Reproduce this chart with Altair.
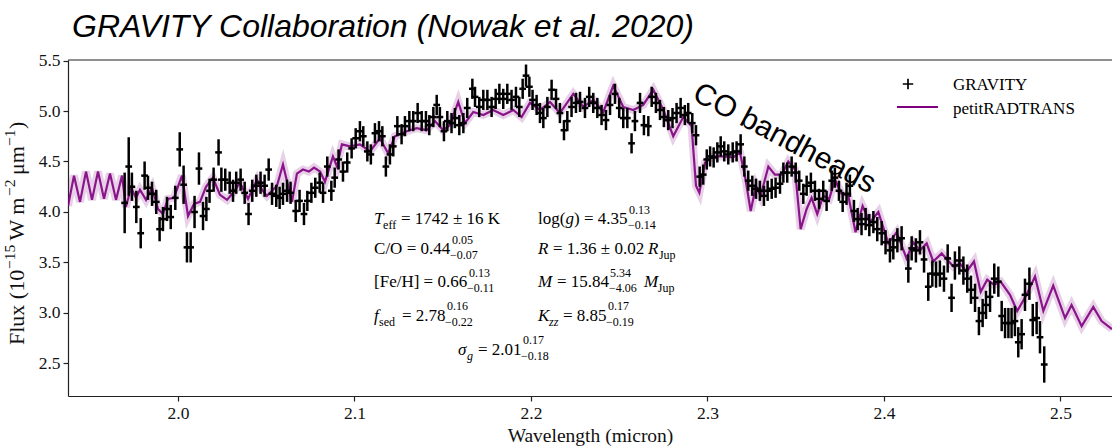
import altair as alt
import pandas as pd

# GRAVITY K-band spectrum: wavelength (micron), flux (1e-15 W m^-2 um^-1), 1-sigma error
wl = [
    1.9698, 1.9721, 1.9739, 1.9764, 1.9789, 1.9811, 1.9830, 1.9853, 1.9877, 1.9896,
    1.9915, 1.9938, 1.9959, 1.9985, 2.0010, 2.0032, 2.0051, 2.0072, 2.0094, 2.0119,
    2.0142, 2.0161, 2.0179, 2.0202, 2.0230, 2.0246, 2.0268, 2.0293, 2.0312, 2.0330,
    2.0355, 2.0378, 2.0400, 2.0421, 2.0444, 2.0468, 2.0491, 2.0514, 2.0533, 2.0557,
    2.0576, 2.0595, 2.0618, 2.0638, 2.0667, 2.0689, 2.0714, 2.0733, 2.0756, 2.0778,
    2.0803, 2.0822, 2.0846, 2.0869, 2.0888, 2.0910, 2.0935,
    2.0959, 2.0984, 2.1007, 2.1031, 2.1050, 2.1073, 2.1093, 2.1116, 2.1139, 2.1158,
    2.1178, 2.1201, 2.1220, 2.1243, 2.1267, 2.1286, 2.1311, 2.1333, 2.1358, 2.1381,
    2.1405, 2.1424, 2.1447, 2.1466, 2.1484, 2.1507, 2.1526, 2.1550, 2.1569, 2.1594,
    2.1617, 2.1639, 2.1668, 2.1683, 2.1707, 2.1730, 2.1753, 2.1777, 2.1800, 2.1821,
    2.1843, 2.1866, 2.1890, 2.1915, 2.1934, 2.1953, 2.1972, 2.1991, 2.2009, 2.2032,
    2.2051, 2.2070, 2.2093, 2.2117, 2.2142, 2.2164, 2.2187, 2.2206, 2.2230, 2.2255,
    2.2278, 2.2306, 2.2330, 2.2353, 2.2376, 2.2400, 2.2425, 2.2448, 2.2476, 2.2500,
    2.2523, 2.2546, 2.2570, 2.2589, 2.2618, 2.2640, 2.2665, 2.2684, 2.2708, 2.2731,
    2.2753, 2.2778, 2.2802, 2.2825, 2.2848, 2.2872, 2.2891, 2.2914, 2.2935,
    2.2956, 2.2976, 2.2996, 2.3015, 2.3035, 2.3056, 2.3075, 2.3095, 2.3118, 2.3143,
    2.3165, 2.3188, 2.3209, 2.3231, 2.3254, 2.3275, 2.3297, 2.3320, 2.3341, 2.3364,
    2.3386, 2.3411, 2.3430, 2.3452, 2.3477, 2.3500, 2.3520, 2.3543, 2.3562, 2.3586,
    2.3609, 2.3632, 2.3656, 2.3675, 2.3704, 2.3722, 2.3745, 2.3766, 2.3788, 2.3807,
    2.3830, 2.3851, 2.3873, 2.3896, 2.3917, 2.3940, 2.3962, 2.3987, 2.4009, 2.4034,
    2.4053, 2.4076,
    2.4100, 2.4138, 2.4157, 2.4181, 2.4204, 2.4227, 2.4251, 2.4274, 2.4295, 2.4317,
    2.4340, 2.4361, 2.4383, 2.4402, 2.4427, 2.4450, 2.4472, 2.4493, 2.4516, 2.4538,
    2.4559, 2.4578, 2.4601, 2.4625, 2.4648, 2.4667, 2.4686, 2.4705, 2.4723, 2.4742,
    2.4761, 2.4780, 2.4799, 2.4824, 2.4843, 2.4865, 2.4884, 2.4908,
]
flux = [
    4.09, 4.45, 4.25, 4.05, 3.79, 4.36, 4.24, 4.18, 4.10, 3.83,
    3.93, 4.03, 3.95, 4.14, 4.62, 4.27, 3.65, 3.65, 4.00, 4.43,
    3.96, 4.03, 4.21, 4.32, 4.59, 4.32, 4.32, 4.29, 4.21, 4.29,
    4.32, 4.19, 3.98, 4.21, 4.26, 4.29, 4.26, 4.42, 4.18, 4.16,
    4.14, 4.18, 4.21, 4.19, 4.01, 4.11, 3.98, 4.11, 4.19, 4.24,
    4.29, 4.19, 4.45, 4.21, 4.34, 4.52, 4.40,
    4.49, 4.63, 4.73, 4.80, 4.75, 4.60, 4.57, 4.78, 4.80, 4.75,
    4.45, 4.57, 4.65, 4.85, 4.77, 4.85, 4.90, 4.90, 4.98, 4.90,
    4.90, 4.86, 4.94, 5.06, 4.94, 4.80, 4.90, 4.88, 4.93, 4.86,
    4.88, 5.03, 5.22, 5.14, 5.04, 5.11, 5.11, 5.04, 5.12, 5.17,
    5.12, 5.17, 5.11, 5.14, 5.04, 5.22, 5.35, 5.24, 5.11, 5.06,
    4.98, 4.93, 5.04, 5.21, 5.12, 4.98, 4.81, 4.90, 5.04, 5.08,
    5.09, 5.03, 5.14, 5.08, 5.03, 4.96, 4.91, 5.06, 5.17, 5.03,
    4.93, 4.93, 4.68, 4.90, 5.08, 4.86, 4.85, 5.14, 5.08, 5.01,
    4.94, 4.91, 4.93, 4.98, 5.03, 4.96, 4.98, 4.88, 4.76,
    4.35, 4.37, 4.52, 4.55, 4.54, 4.59, 4.65, 4.60, 4.57, 4.59,
    4.60, 4.67, 4.45, 4.31, 4.26, 4.23, 4.21, 4.16, 4.21, 4.23,
    4.24, 4.28, 4.39, 4.39, 4.45, 4.39, 4.31, 4.18, 4.26, 4.29,
    4.21, 4.13, 4.21, 4.11, 4.31, 4.34, 4.21, 4.10, 4.18, 4.26,
    4.01, 3.93, 3.88, 3.93, 3.87, 3.90, 3.83, 3.79, 3.70, 3.62,
    3.65, 3.72,
    3.74, 3.44, 3.64, 3.62, 3.70, 3.53, 3.26, 3.39, 3.38, 3.39,
    3.34, 3.54, 3.15, 3.47, 3.52, 3.42, 3.34, 3.23, 3.15, 2.92,
    3.00, 3.08, 3.16, 3.34, 3.31, 2.97, 2.90, 2.90, 2.90, 2.92,
    2.71, 2.79, 3.18, 3.29, 2.93, 2.95, 2.76, 2.49,
]
err = [
    0.30, 0.29, 0.14, 0.16, 0.15, 0.14, 0.12, 0.12, 0.12, 0.12,
    0.12, 0.12, 0.12, 0.12, 0.17, 0.19, 0.15, 0.15, 0.16, 0.16,
    0.14, 0.12, 0.12, 0.12, 0.13, 0.12, 0.11, 0.11, 0.11, 0.11,
    0.11, 0.11, 0.11, 0.11, 0.11, 0.11, 0.11, 0.11, 0.11, 0.11,
    0.11, 0.11, 0.11, 0.11, 0.11, 0.11, 0.11, 0.10, 0.10, 0.10,
    0.10, 0.10, 0.10, 0.10, 0.10, 0.10, 0.10,
    0.10, 0.10, 0.10, 0.10, 0.10, 0.10, 0.10, 0.10, 0.10, 0.10,
    0.10, 0.10, 0.10, 0.10, 0.10, 0.10, 0.10, 0.10, 0.10, 0.10,
    0.10, 0.10, 0.10, 0.10, 0.10, 0.10, 0.10, 0.10, 0.10, 0.10,
    0.10, 0.10, 0.10, 0.10, 0.10, 0.10, 0.10, 0.10, 0.10, 0.10,
    0.10, 0.10, 0.10, 0.10, 0.10, 0.10, 0.11, 0.10, 0.10, 0.10,
    0.10, 0.10, 0.10, 0.10, 0.10, 0.10, 0.10, 0.10, 0.10, 0.10,
    0.10, 0.10, 0.10, 0.10, 0.10, 0.10, 0.10, 0.10, 0.10, 0.10,
    0.10, 0.10, 0.10, 0.10, 0.10, 0.10, 0.10, 0.10, 0.10, 0.10,
    0.10, 0.10, 0.10, 0.10, 0.10, 0.10, 0.10, 0.10, 0.10,
    0.10, 0.10, 0.10, 0.10, 0.10, 0.10, 0.10, 0.10, 0.10, 0.10,
    0.10, 0.10, 0.10, 0.10, 0.10, 0.10, 0.10, 0.10, 0.10, 0.10,
    0.10, 0.10, 0.10, 0.10, 0.10, 0.10, 0.10, 0.10, 0.10, 0.10,
    0.10, 0.10, 0.10, 0.10, 0.10, 0.10, 0.10, 0.10, 0.11, 0.11,
    0.11, 0.11, 0.11, 0.11, 0.11, 0.11, 0.12, 0.12, 0.12, 0.12,
    0.12, 0.12,
    0.12, 0.14, 0.12, 0.12, 0.12, 0.13, 0.14, 0.13, 0.13, 0.13,
    0.13, 0.14, 0.14, 0.14, 0.14, 0.14, 0.14, 0.14, 0.14, 0.14,
    0.14, 0.14, 0.15, 0.15, 0.15, 0.15, 0.15, 0.15, 0.15, 0.15,
    0.15, 0.15, 0.16, 0.16, 0.16, 0.16, 0.16, 0.18,
]

# petitRADTRANS best-fit model spectrum
model_wl = [
    1.9377, 1.9411, 1.9445, 1.9479, 1.9513, 1.9547, 1.9581, 1.9615, 1.9649, 1.9683,
    1.9705, 1.9734, 1.9762, 1.9785, 1.9819, 1.9853, 1.9887, 1.9915, 1.9943, 1.9977,
    2.0023, 2.0057, 2.0091, 2.0125, 2.0159, 2.0198, 2.0238, 2.0278, 2.0317, 2.0351,
    2.0397, 2.0448, 2.0476, 2.0504, 2.0561, 2.0595, 2.0646, 2.0674, 2.0708, 2.0742,
    2.0771, 2.0805, 2.0833, 2.0878, 2.0901, 2.0929, 2.0975, 2.1031, 2.1088, 2.1144,
    2.1191, 2.1229, 2.1296, 2.1352, 2.1409, 2.1456, 2.1503, 2.1541, 2.1588, 2.1626,
    2.1673, 2.1730, 2.1786, 2.1843, 2.1900, 2.1947, 2.1994, 2.2051, 2.2108, 2.2164,
    2.2240, 2.2296, 2.2353, 2.2410, 2.2466, 2.2523, 2.2580, 2.2636, 2.2693, 2.2750,
    2.2806, 2.2863, 2.2910, 2.2935, 2.2954, 2.2986, 2.3033, 2.3090, 2.3146, 2.3184,
    2.3212, 2.3245, 2.3275, 2.3301, 2.3345, 2.3382, 2.3420, 2.3458, 2.3496, 2.3528,
    2.3562, 2.3590, 2.3622, 2.3656, 2.3690, 2.3722, 2.3760, 2.3798, 2.3839, 2.3879,
    2.3921, 2.3968, 2.4025, 2.4072, 2.4128, 2.4166, 2.4204, 2.4242, 2.4279, 2.4327,
    2.4393, 2.4431, 2.4468, 2.4510, 2.4548, 2.4585, 2.4623, 2.4661, 2.4714, 2.4755,
    2.4808, 2.4856, 2.4903, 2.4959, 2.5026, 2.5063, 2.5120, 2.5186, 2.5233, 2.5292,
]
model_flux = [
    4.06, 4.36, 4.10, 4.40, 4.12, 4.40, 4.13, 4.38, 4.12, 4.36,
    4.05, 4.24, 4.14, 4.22, 4.12, 4.24, 4.03, 3.98, 4.13, 4.14,
    4.36, 3.96, 4.08, 4.10, 4.25, 4.34, 4.17, 4.12, 4.20, 4.29,
    4.13, 4.32, 4.22, 4.16, 4.26, 4.47, 4.10, 4.38, 4.42, 4.40,
    4.44, 4.40, 4.30, 4.55, 4.45, 4.67, 4.65, 4.67, 4.60, 4.73,
    4.58, 4.75, 4.80, 4.83, 4.81, 4.90, 4.81, 4.86, 5.09, 4.88,
    4.99, 4.96, 5.01, 4.96, 5.01, 4.94, 5.08, 5.01, 5.09, 4.98,
    5.17, 5.04, 5.11, 4.99, 5.25, 5.04, 5.01, 5.06, 5.21, 5.01,
    4.75, 4.94, 4.85, 4.26, 4.19, 4.49, 4.55, 4.55, 4.54, 4.59,
    4.36, 4.01, 4.26, 4.16, 4.45, 4.37, 4.37, 4.50, 4.42, 3.83,
    4.03, 4.14, 3.98, 4.16, 4.13, 4.32, 4.18, 4.16, 3.80, 4.06,
    3.90, 4.00, 3.69, 3.80, 3.54, 3.70, 3.62, 3.69, 3.51, 3.59,
    3.46, 3.49, 3.41, 3.51, 3.21, 3.33, 3.28, 3.31, 3.18, 3.02,
    3.18, 3.36, 3.02, 3.27, 2.95, 3.08, 2.87, 3.06, 2.92, 2.84,
]

# Retrieved parameters, laid out as text pieces in data coordinates
ann_text = [
    "T", "eff", "= 1742 ± 16 K", "log(", "g", ") = 4.35", "0.13", "−0.14",
    "C/O = 0.44", "0.05", "−0.07", "R", "= 1.36 ± 0.02", "R", "Jup",
    "[Fe/H] = 0.66", "0.13", "−0.11", "M", "= 15.84", "5.34", "−4.06", "M", "Jup",
    "f", "sed", "= 2.78", "0.16", "−0.22", "K", "zz", "= 8.85", "0.17", "−0.19",
    "σ", "g", "= 2.01", "0.17", "−0.18",
]
ann_wl = [
    2.1111, 2.1162, 2.1263, 2.2040, 2.2195, 2.2244, 2.2555, 2.2550,
    2.1111, 2.1552, 2.1541, 2.2040, 2.2125, 2.2663, 2.2725,
    2.1111, 2.1649, 2.1637, 2.2040, 2.2147, 2.2448, 2.2442, 2.2640, 2.2719,
    2.1111, 2.1139, 2.1269, 2.1524, 2.1513, 2.2040, 2.2102, 2.2181, 2.2436, 2.2425,
    2.1586, 2.1637, 2.1700, 2.1955, 2.1943,
]
ann_flux = [
    3.881, 3.832, 3.881, 3.881, 3.881, 3.881, 3.985, 3.830,
    3.584, 3.688, 3.533, 3.584, 3.584, 3.584, 3.535,
    3.257, 3.361, 3.206, 3.257, 3.257, 3.361, 3.206, 3.257, 3.208,
    2.921, 2.872, 2.921, 3.025, 2.870, 2.921, 2.872, 2.921, 3.025, 2.870,
    2.584, 2.535, 2.584, 2.688, 2.533,
]
ann_size = [
    17, 12, 17, 17, 17, 17, 12, 12,
    17, 12, 12, 17, 17, 17, 12,
    17, 12, 12, 17, 17, 12, 12, 17, 12,
    17, 12, 17, 12, 12, 17, 12, 17, 12, 12,
    17, 12, 17, 12, 12,
]
ann_italic = [
    True, False, False, False, True, False, False, False,
    False, False, False, True, False, True, False,
    False, False, False, True, False, False, False, True, False,
    True, False, False, False, False, True, True, False, False, False,
    True, True, False, False, False,
]

# y-axis title pieces (base text and exponents)
yt_text = ["Flux (10", "−15", "W m", "−2", "μm", "−1", ")"]
yt_sup = [False, True, False, True, False, True, False]
yt_pos = [285, 209, 180.5, 136, 115, 86, 69]

x_ticks = [2.0, 2.1, 2.2, 2.3, 2.4, 2.5]
y_ticks = [2.5, 3.0, 3.5, 4.0, 4.5, 5.0, 5.5]

TITLE = "GRAVITY Collaboration (Nowak et al. 2020)"
X_DOMAIN = [1.9377, 2.5292]
Y_DOMAIN = [2.178, 5.505]
W, H = 1044, 336
BIN_HALF = 0.0019
PURPLE = "#800080"
SERIF = "Liberation Serif"
INK = "#111"

obs = pd.DataFrame({"wl": wl, "flux": flux, "err": err})
mod = pd.DataFrame({"wl": model_wl, "flux": model_flux})
ann = pd.DataFrame({"t": ann_text, "wl": ann_wl, "flux": ann_flux,
                    "size": ann_size, "italic": ann_italic})
yt = pd.DataFrame({"t": yt_text, "sup": yt_sup, "pos": yt_pos})

xs = alt.Scale(domain=X_DOMAIN, nice=False, zero=False)
ys = alt.Scale(domain=Y_DOMAIN, nice=False, zero=False)
x_axis = alt.Axis(values=x_ticks, format=".1f", title="Wavelength (micron)", titlePadding=5)
y_axis = alt.Axis(values=y_ticks, format=".1f", title=None)

X = alt.X("wl:Q", scale=xs, axis=x_axis)
Y = alt.Y("flux:Q", scale=ys, axis=y_axis)

# model: soft posterior band plus best-fit line
halo = alt.Chart(mod).mark_line(color=PURPLE, strokeWidth=8, opacity=0.18, clip=True).encode(x=X, y=Y)
core = alt.Chart(mod).mark_line(color=PURPLE, strokeWidth=2.2, opacity=0.9, clip=True).encode(x=X, y=Y)

# data points as error-bar crosses
vbar = alt.Chart(obs).transform_calculate(
    lo="datum.flux - datum.err", hi="datum.flux + datum.err"
).mark_rule(color="black", strokeWidth=2.5, clip=True).encode(
    x=X, y=alt.Y("lo:Q", scale=ys, axis=y_axis), y2="hi:Q"
)
hbar = alt.Chart(obs).transform_calculate(
    x0=f"datum.wl - {BIN_HALF}", x1=f"datum.wl + {BIN_HALF}"
).mark_rule(color="black", strokeWidth=2.5, clip=True).encode(
    x=alt.X("x0:Q", scale=xs, axis=x_axis), x2="x1:Q", y=Y
)

# top spine
top = alt.Chart(pd.DataFrame({"flux": [Y_DOMAIN[1]]})).mark_rule(
    color="#222", strokeWidth=1.2
).encode(y=alt.Y("flux:Q", scale=ys, axis=y_axis))

# parameter annotations
def ann_layer(italic):
    return alt.Chart(ann).transform_filter(
        f"datum.italic == {'true' if italic else 'false'}"
    ).mark_text(align="left", baseline="alphabetic", font=SERIF, color="black",
                fontStyle="italic" if italic else "normal").encode(
        x=X, y=Y, text="t:N", size=alt.Size("size:Q", scale=None, legend=None)
    )

co = alt.Chart(pd.DataFrame({"wl": [2.2907], "flux": [5.119], "t": ["CO bandheads"]})).mark_text(
    align="left", baseline="alphabetic", angle=28, font="Liberation Sans",
    fontSize=30, color="black"
).encode(x=X, y=Y, text="t:N")

# rotated y-axis title with raised exponents
def ytitle_layer(sup):
    return alt.Chart(yt).transform_filter(
        f"datum.sup == {'true' if sup else 'false'}"
    ).mark_text(align="left", baseline="alphabetic", angle=270, font=SERIF,
                fontSize=15.5 if sup else 22, color=INK).encode(
        x=alt.value(-53 if sup else -44), y=alt.Y("pos:Q", scale=None, axis=None), text="t:N"
    )

# figure heading above the axes
heading = alt.Chart(pd.DataFrame({"t": [TITLE]})).mark_text(
    align="left", baseline="alphabetic", font="Liberation Sans", fontSize=32,
    fontStyle="italic", color="black"
).encode(x=alt.value(4), y=alt.value(-23), text="t:N")

# legend
leg_plus = alt.Chart(pd.DataFrame({"k": ["GRAVITY"]})).mark_point(
    shape="M-1,0L1,0M0,-1L0,1", size=110, filled=False, strokeWidth=1.7, color="black", opacity=1
).encode(x=alt.value(840), y=alt.value(24))
leg_line = alt.Chart(pd.DataFrame({"k": ["petitRADTRANS"]})).mark_rule(
    color=PURPLE, strokeWidth=2.2
).encode(x=alt.value(829), x2=alt.value(870), y=alt.value(47))
leg_t1 = alt.Chart(pd.DataFrame({"k": ["GRAVITY"]})).mark_text(
    align="left", baseline="alphabetic", font=SERIF, fontSize=17, color="black"
).encode(x=alt.value(885), y=alt.value(30), text="k:N")
leg_t2 = alt.Chart(pd.DataFrame({"k": ["petitRADTRANS"]})).mark_text(
    align="left", baseline="alphabetic", font=SERIF, fontSize=17, color="black"
).encode(x=alt.value(885), y=alt.value(54), text="k:N")

chart = alt.layer(
    halo, core, vbar, hbar, top, ann_layer(False), ann_layer(True), co,
    ytitle_layer(False), ytitle_layer(True), heading,
    leg_plus, leg_line, leg_t1, leg_t2
).properties(
    width=W, height=H,
    autosize=alt.AutoSizeParams(type="none"),
    padding={"left": 68, "top": 60, "right": 0, "bottom": 52},
).configure_view(stroke=None).configure_axis(
    grid=False, domainColor="#222", tickColor="#222", domainWidth=1.2, tickWidth=1.2,
    tickSize=5, labelPadding=3, labelFont=SERIF, labelFontSize=17.5, labelColor=INK,
    titleFont=SERIF, titleFontSize=19.5, titleFontWeight="normal", titleColor=INK
)

chart.save("out.html", embed_options={"renderer": "svg", "actions": False})
